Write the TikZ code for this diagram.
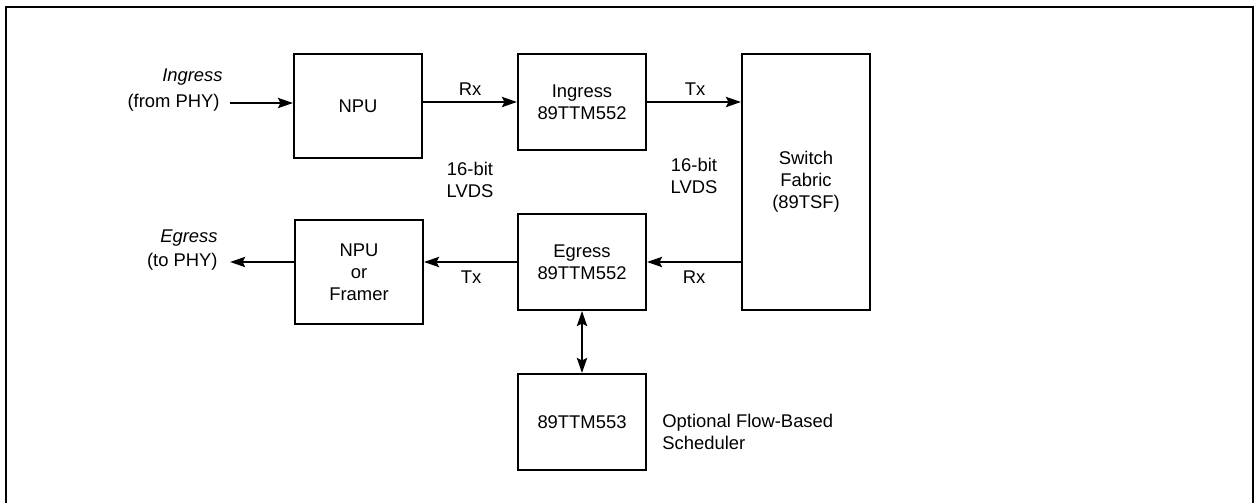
\documentclass[tikz,border=0pt]{standalone}
\usepackage{fontspec}
\setmainfont{Liberation Sans}
\usetikzlibrary{arrows.meta}
\begin{document}
\begin{tikzpicture}[x=0.5pt,y=-0.5pt,
  every node/.style={font=\fontsize{9.2pt}{11pt}\selectfont, inner sep=0pt},
  blk/.style={draw, line width=0.9pt, minimum width=64pt, align=center},
  conn/.style={line width=1.4pt, -{Stealth[length=7.5pt,width=5pt,inset=1.2pt]}},
  biconn/.style={line width=1.4pt, {Stealth[length=7.5pt,width=5pt,inset=1.2pt]}-{Stealth[length=7.5pt,width=5pt,inset=1.2pt]}},
  lbl/.style={align=center}]
\useasboundingbox (0,0) rectangle (1259,503);
\draw[line width=0.9pt] (6,503) -- (6,7) -- (1253,7) -- (1253,503);

\node[blk, minimum height=52pt] (npu) at (358,106) {NPU};
\node[blk, minimum height=48pt] (ing) at (582,102) {Ingress\\89TTM552};
\node[blk, minimum height=128pt] (sw) at (806,182) {Switch\\Fabric\\(89TSF)};
\node[blk, minimum height=52pt] (npuf) at (359,272) {NPU\\or\\Framer};
\node[blk, minimum height=48pt] (eg) at (582,262) {Egress\\89TTM552};
\node[blk, minimum height=48pt] (sch) at (582,422) {89TTM553};

\coordinate (inc) at (230,103);
\coordinate (outc) at (230,262);

\node[anchor=east, font=\fontsize{9.2pt}{11pt}\selectfont\itshape] (ingl) at (223,77) {Ingress};
\node[anchor=east] (froml) at (220,103) {(from PHY)};
\node[anchor=east, font=\fontsize{9.2pt}{11pt}\selectfont\itshape] (egl) at (218,238) {Egress};
\node[anchor=east] (tol) at (218,262) {(to PHY)};

\draw[conn] (inc) -- (npu.west |- inc);
\draw[conn] (npu.east |- ing) -- (ing);
\draw[conn] (ing) -- (sw.west |- ing);
\draw[conn] (sw.west |- eg) -- (eg);
\draw[conn] (eg) -- (npuf.east |- eg);
\draw[conn] (npuf.west |- outc) -- (outc);
\draw[biconn] (eg) -- (sch);

\node (rx1) at (470,89) {Rx};
\node (tx1) at (695,89) {Tx};
\node (tx2) at (471,277) {Tx};
\node (rx2) at (694,277) {Rx};
\node[lbl] (lv1) at (470,180) {16-bit\\LVDS};
\node[lbl] (lv2) at (694,176) {16-bit\\LVDS};
\node[anchor=west, align=left] (opt) at (662,432) {Optional Flow-Based\\Scheduler};
\end{tikzpicture}
\end{document}
